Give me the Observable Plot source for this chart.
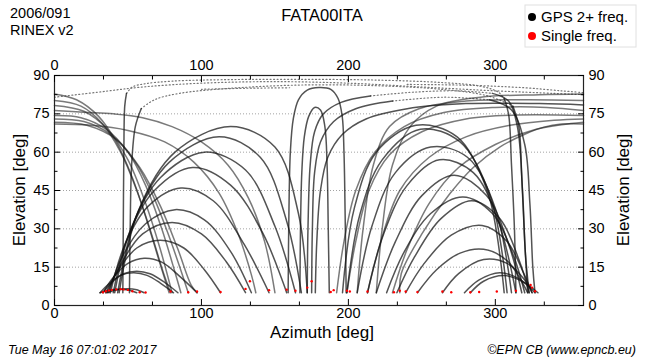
<!DOCTYPE html>
<html><head><meta charset="utf-8">
<script src="https://cdn.jsdelivr.net/npm/d3@7"></script>
<script src="https://cdn.jsdelivr.net/npm/@observablehq/plot@0.6"></script>
<style>
body{margin:0;background:#fff;}
#wrap{width:650px;height:360px;}
</style></head><body><div id="wrap"></div>
<script>
// ---- axis ticks ----
const azTicks = [0, 100, 200, 300];
const azMinor = [33.33, 66.67, 133.33, 166.67, 233.33, 266.67, 333.33];
const elTicks = [0, 15, 30, 45, 60, 75, 90];
const elMinor = [7.5, 22.5, 37.5, 52.5, 67.5, 82.5];
const elGrid = [15, 30, 45, 60, 75];

// ---- satellite tracks [azimuth, elevation] ----
const westLow = [
  [[31,5],[36,5.9],[44,6.4],[51,6.0],[56,5]],
  [[35,5],[41,6],[49,6.6],[56,6.2],[61,5]],
  [[31,5],[37,8.5],[45,11.8],[54,12.8],[63,11.8],[72,8.8],[81,5]],
  [[33,5],[39,9],[47,12.4],[56,13.4],[65,12.4],[75,9],[84,5]],
  [[33,5],[40,11],[50,16.5],[61,18.5],[73,17],[86,11],[97,5]],
  [[35,5],[43,13.5],[56,22.5],[72,25.5],[88,22.5],[102,14],[113,5]],
  [[36,5],[45,16],[60,28],[80,32.5],[100,28],[117,17],[130,5]],
  [[37,5],[46,19],[62,32],[82,37.5],[102,33.5],[120,21],[134,5]],
  [[38,5],[48,24],[64,39],[86,46],[108,41],[129,24],[146,5]],
  [[40,5],[50,27],[68,45],[94,54],[120,47],[142,28],[158,5]],
  [[41,5],[52,30],[72,50],[102,60],[130,53],[150,31],[164,5]],
  [[43,5],[55,34],[78,56],[112,66],[140,58],[158,33],[168,5]],
  [[44,5],[57,37],[82,60],[120,70],[150,62],[166,36],[172,5]]
];
const westWrap = [
  [[0,82.8],[15,80.5],[30,74],[42,64],[53,50],[63,33],[72,16],[78,5]],
  [[0,80.2],[18,78],[32,71.5],[45,60],[56,45],[66,28],[74,13],[79,5]],
  [[0,78.3],[20,76],[36,69],[50,57],[62,40],[72,22],[80,5]],
  [[0,76.3],[20,75.6],[40,75],[60,73.5],[80,70],[100,64],[118,55],[132,42],[143,25],[150,5]],
  [[0,74.3],[18,73.5],[35,69],[50,60],[62,47],[73,30],[82,13],[86,5]],
  [[0,73],[20,72],[38,67],[54,57],[67,43],[78,27],[87,12],[91,5]],
  [[0,71.7],[22,70.5],[42,65],[58,54],[72,39],[84,22],[93,8],[97,5]],
  [[0,71],[25,70.5],[50,68.5],[75,64],[95,56],[112,44],[125,28],[134,12],[137,5]]
];
const eastWrap = [
  [[192,5],[197,25],[205,45],[218,60],[238,70],[265,75.5],[300,77.5],[335,77.5],[360,76.3]],
  [[199,5],[205,25],[214,45],[228,59],[250,68],[280,73],[315,74.5],[360,74.3]],
  [[213,5],[222,25],[235,45],[255,58],[280,66],[310,70.5],[340,72.5],[360,73]],
  [[230,5],[240,22],[255,40],[275,54],[300,63],[325,68.5],[345,70.7],[360,71.7]],
  [[235,5],[236,12.5],[250,28],[269,43.7],[285,54],[303,62],[320,67],[333,69.8],[345,71],[360,71]],
  [[219,5],[223,30],[230,55],[242,70],[260,78],[290,81.5],[330,82.5],[360,82.8]],
  [[206,5],[210,30],[217,55],[228,70],[248,77],[280,80],[320,80.5],[360,80.2]]
];
const eastLow = [
  [[283,5],[292,9.5],[306,11.7],[318,9.5],[329,5]],
  [[279,5],[289,10],[303,12.8],[316,10.5],[327,5]],
  [[264,5],[275,12.5],[292,18],[308,16.5],[320,10],[325,5]],
  [[247,5],[260,14],[276,20.5],[292,22],[308,17.5],[322,5]],
  [[239,5],[251,16],[270,27.5],[291,31.3],[308,25],[319,13],[325,5]],
  [[233,5],[245,19],[263,34],[284,41],[303,34],[316,18],[323,5]],
  [[226,5],[238,21],[256,36],[278,42.5],[298,36],[312,20],[320,5]],
  [[219,5],[232,25],[250,43],[272,51],[294,43],[309,24],[318,5]],
  [[213,5],[224,28],[240,47],[262,57],[285,52],[302,33],[314,5]],
  [[206,5],[216,31],[232,52],[256,62],[281,58],[300,38],[311,5]],
  [[199,5],[208,36],[223,57],[249,69],[276,64],[297,42],[308,5]],
  [[196,5],[204,38],[219,60],[246,70.5],[274,66],[295,44],[306,5]]
];
const centerArcs = [
  [[159,5],[159.5,35],[160.5,60],[162.5,73],[166,80.5],[172,84.3],[180,85.3],[188,84.6],[193,81],[195.8,74],[197,60],[197.8,35],[198.5,5]],
  [[167,5],[167.4,30],[168.3,52],[170,66],[173,74],[177,77.5],[181,76.5],[184,70],[185.5,55],[186.3,30],[187,5]],
  [[172,5],[172.5,30],[174,55],[177,68],[183,75],[195,79.5],[215,82]],
  [[175,5],[175.5,30],[177,52],[181,64],[190,72],[205,77],[230,80]],
  [[177.5,5],[178.5,25],[181,45],[186,58],[196,67],[212,73],[240,77],[280,79],[330,79],[360,78.5]]
];
const zenithLegs = [
  [[46.5,5],[46.8,30],[47.2,60],[47.8,78],[49,83]],
  [[51,5],[51.5,30],[52.5,55],[55,70],[59,77]],
  [[306,81],[309,75],[311,55],[313,30],[314,5]],
  [[312,78],[316,70],[318,50],[320,25],[322,5]],
  [[298,83],[309,80],[315,70],[318.5,45],[320.5,20],[323,5]],
  [[296,80.5],[311,76.5],[320,63],[323.5,40],[325.5,15],[327,5]]
];
const zenithTops = [
  [[49,83],[53,85.5],[62,86.8],[80,87.8],[120,88.4],[170,88.5],[220,88.2],[265,87.2],[290,85.8],[302,83.5],[306,81]],
  [[59,77],[68,80.5],[85,83],[120,85],[170,86.3],[220,86],[265,84.5],[295,82],[312,78]],
  [[215,82],[245,83.5],[275,84],[298,83]],
  [[230,80],[265,81.5],[296,80.5]],
  [[0,81.5],[30,83.5],[60,85.5],[100,87],[150,87.6],[200,87],[250,85.5],[300,84],[340,83],[360,82.5]],
  [[100,84.6],[130,85],[160,85.2]],
  [[240,86.5],[280,86.2],[320,85.2],[345,84],[360,83.3]]
];
const singleFreq = [
  [33,5.2],[35,5.6],[37,5.9],[39,6.1],[42,6.3],[45,6.4],[47,6.3],[50,6.1],[53,5.6],[58,5.2],[62,5.1],
  [79,5.5],[91,5.2],[97,5.5],[113,5.3],[130,6.5],[133,9.5],[146,6.0],[158,6.2],[164,5.8],[172,7],[175,9.5],
  [188,5.3],[190,6],[199,5.8],[201,5.5],[213,5.5],[231,5.2],[235,5.8],[239,5.5],[247,5.3],[264,5.5],
  [270,5.2],[283,5.2],[289,5.3],[301,5.5],[314,5.8],[324,8],[325,7],[327,5.6]
];

function rows(groups) {
  const out = [];
  groups.forEach((g, i) => g.forEach(([az, el]) => out.push({id: i, az, el})));
  return out;
}
const darkRows = rows([...westLow, ...eastLow, ...centerArcs, ...zenithLegs]);
const wrapRows = rows([...westWrap, ...eastWrap]);
const topRows = rows(zenithTops);
const redRows = singleFreq.map(([az, el]) => ({az, el}));

const FONT = "'Liberation Sans', Arial, Helvetica, sans-serif";
const lineOpts = {x: "az", y: "el", z: "id", curve: "catmull-rom", fill: "none"};

const plot = Plot.plot({
  width: 650, height: 360,
  marginLeft: 54, marginRight: 67, marginTop: 75, marginBottom: 55,
  x: {domain: [0, 360]},
  y: {domain: [0, 90]},
  style: {fontFamily: FONT, background: "white", color: "black"},
  marks: [
    Plot.gridY(elGrid, {stroke: "#999", strokeOpacity: 1, strokeWidth: 0.9, strokeDasharray: "1,2"}),
    Plot.line(topRows, {...lineOpts, stroke: "#777", strokeWidth: 1.2, strokeDasharray: "1,2.5"}),
    Plot.line(wrapRows, {...lineOpts, stroke: "#222", strokeOpacity: 0.6, strokeWidth: 1.5}),
    Plot.line(darkRows, {...lineOpts, stroke: "#111", strokeOpacity: 0.72, strokeWidth: 1.5}),
    Plot.dot(redRows, {x: "az", y: "el", r: 1.2, fill: "red", stroke: "none"}),
    Plot.frame({stroke: "#222", strokeWidth: 1.2}),
    // labels
    Plot.axisX({anchor: "bottom", ticks: azTicks, tickSize: 0, tickPadding: 2, fontSize: 14.5, label: null, tickFormat: d => d}),
    Plot.axisX({anchor: "top", ticks: azTicks, tickSize: 0, tickPadding: 6, fontSize: 14.5, label: null, tickFormat: d => d}),
    Plot.axisY({anchor: "left", ticks: elTicks, tickSize: 0, tickPadding: 5, fontSize: 14.5, label: null, tickFormat: d => d}),
    Plot.axisY({anchor: "right", ticks: elTicks, tickSize: 0, tickPadding: 5, fontSize: 14.5, label: null, tickFormat: d => d}),
    // inward ticks
    Plot.axisX({anchor: "bottom", ticks: azTicks, tickSize: 6, dy: -6, fill: "none", label: null}),
    Plot.axisX({anchor: "bottom", ticks: azMinor, tickSize: 3.5, dy: -3.5, fill: "none", label: null}),
    Plot.axisX({anchor: "top", ticks: azTicks, tickSize: 6, dy: 6, fill: "none", label: null}),
    Plot.axisX({anchor: "top", ticks: azMinor, tickSize: 3.5, dy: 3.5, fill: "none", label: null}),
    Plot.axisY({anchor: "left", ticks: elTicks, tickSize: 6, dx: 6, fill: "none", label: null}),
    Plot.axisY({anchor: "left", ticks: elMinor, tickSize: 3.5, dx: 3.5, fill: "none", label: null}),
    Plot.axisY({anchor: "right", ticks: elTicks, tickSize: 6, dx: -6, fill: "none", label: null}),
    Plot.axisY({anchor: "right", ticks: elMinor, tickSize: 3.5, dx: -3.5, fill: "none", label: null})
  ]
});
document.getElementById("wrap").appendChild(plot);

// ---- titles, axis titles, legend, footer ----
const svg = d3.select(plot);
function txt(x, y, s, size, anchor = "start", extra = {}) {
  const t = svg.append("text").attr("x", x).attr("y", y).attr("font-size", size)
    .attr("font-family", FONT).attr("text-anchor", anchor).attr("fill", "#000").text(s);
  for (const k in extra) t.attr(k, extra[k]);
  return t;
}
txt(10, 18, "2006/091", 14.5);
txt(10, 34.5, "RINEX v2", 14.5);
txt(322, 21, "FATA00ITA", 16.5, "middle");
txt(322, 338, "Azimuth [deg]", 17, "middle");
txt(0, 0, "Elevation [deg]", 17, "middle", {transform: "translate(25,190) rotate(-90)"});
txt(0, 0, "Elevation [deg]", 17, "middle", {transform: "translate(629,190) rotate(-90)"});
txt(8, 354, "Tue May 16 07:01:02 2017", 12.5, "start", {"font-style": "italic"});
txt(636, 354, "\u00A9EPN CB (www.epncb.eu)", 12.5, "end", {"font-style": "italic"});
svg.append("rect").attr("x", 525).attr("y", 5).attr("width", 111).attr("height", 42)
  .attr("fill", "white").attr("stroke", "#e0e0e0");
svg.append("circle").attr("cx", 532).attr("cy", 17).attr("r", 4).attr("fill", "black");
svg.append("circle").attr("cx", 532).attr("cy", 36).attr("r", 4).attr("fill", "red");
txt(541, 22, "GPS 2+ freq.", 15);
txt(541, 41, "Single freq.", 15);
</script></body></html>
